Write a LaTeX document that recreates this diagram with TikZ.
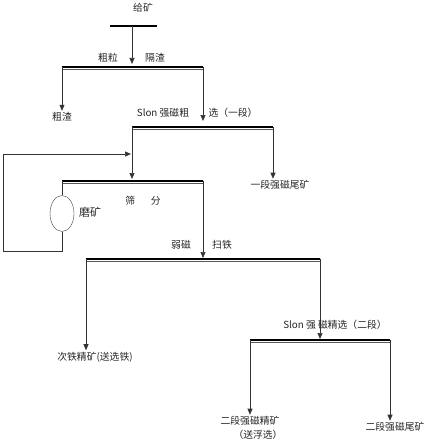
\documentclass[tikz,border=0pt]{standalone}
\usepackage{fontspec}
\newfontfamily\cjk{Noto Sans CJK SC}
\usetikzlibrary{arrows.meta, shapes.geometric}
% one separation bar: thick line over a thin one
\newcommand{\sepbar}[4]{%
  \draw[bar] (#2,#4) coordinate (#1w) -- (#3,#4) coordinate (#1e);
  \draw[subbar] (#2,#4+3) -- (#3,#4+3);}

\begin{document}
\begin{tikzpicture}[x=1pt, y=-1pt,
    lbl/.style={font=\cjk\fontsize{9.8}{11}\selectfont, text=black!85, inner sep=1.5pt},
    bar/.style={line width=2pt, black},
    subbar/.style={line width=0.6pt, black!65},
    arr/.style={-{Triangle[length=6pt, width=5pt]}, semithick, black!80},
    link/.style={semithick, black!80}
]
  \useasboundingbox (0,0) rectangle (431,444);
  % feed
  \node[lbl] (feed) at (143,8) {给矿};
  \draw[line width=1.4pt] (110,26) -- (157,26);
  \coordinate (fin) at (132,26);
  \sepbar{b1}{62}{203}{66.5}
  \coordinate (b1in) at (132,64);
  \draw[arr] (fin) -- (b1in);
  \node[lbl] (coarse) at (108,58) {粗粒};
  \node[lbl] (screen) at (155,58) {隔渣};
  \node[lbl] (slag) at (62,117) {粗渣};
  \draw[arr] (b1w) -- (b1w |- slag.north);
  % first strong magnetic stage
  \sepbar{b2}{132}{273}{126.5}
  \coordinate (b2in) at (203,121);
  \draw[arr] (b1e) -- (b2in);
  \node[lbl] (slon1a) at (163,113) {Slon 强磁粗};
  \node[lbl] (slon1b) at (233,113) {选（一段）};
  \node[lbl] (tail1) at (280,185) {一段强磁尾矿};
  \draw[arr] (b2e) -- (b2e |- tail1.north);
  % screening and grinding
  \sepbar{b3}{62}{203}{180.5}
  \coordinate (b3in) at (132,179);
  \draw[arr] (b2w) -- (b3in);
  \node[lbl] (sieve) at (143,201) {筛\hspace{1.6em}分};
  \node[draw=black!75, ellipse, minimum width=24pt, minimum height=36pt, inner sep=0pt] (mill) at (62,213.5) {};
  \node[lbl, font=\cjk\fontsize{11}{12}\selectfont] (millt) at (90,212) {磨矿};
  \draw[link] (b3w) -- (mill);
  \coordinate (loop) at (131,154);
  \draw[arr] (mill) -- (62,251) -| (3,154) -- (loop);
  % weak magnetic scavenging
  \sepbar{b4}{86}{320}{258.5}
  \coordinate (b4in) at (203,258);
  \draw[arr] (b3e) -- (b4in);
  \node[lbl] (weak) at (181,245) {弱磁};
  \node[lbl] (scav) at (222,245) {扫铁};
  \node[lbl] (iron) at (95,357) {次铁精矿(送选铁)};
  \draw[arr] (b4w) -- (b4w |- iron.north);
  % second strong magnetic stage
  \sepbar{b5}{250}{390}{339.5}
  \coordinate (b5in) at (320,339);
  \draw[arr] (b4e) -- (b5in);
  \node[lbl] (slon2) at (335,325) {Slon 强 磁精选（二段）};
  \node[lbl] (conc2) at (250,421) {二段强磁精矿};
  \node[lbl] (conc2b) at (258,435) {（送浮选）};
  \node[lbl] (tail2) at (395,427) {二段强磁尾矿};
  \draw[arr] (b5w) -- (b5w |- conc2.north);
  \draw[arr] (b5e) -- (b5e |- tail2.north);
\end{tikzpicture}
\end{document}
